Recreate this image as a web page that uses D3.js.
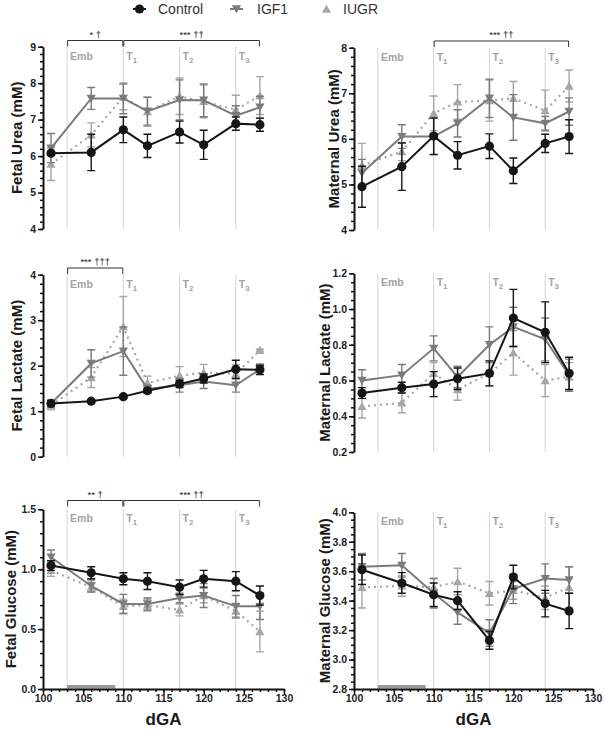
<!DOCTYPE html>
<html><head><meta charset="utf-8">
<script src="https://cdn.jsdelivr.net/npm/d3@7"></script>
<style>body{margin:0;background:#fff}svg{display:block}text{font-family:Arial,"Liberation Sans",sans-serif}</style>
</head><body>
<svg id="c" width="606" height="730"></svg>
<script>
const days = [101,106,110,113,117,120,124,127];
const groups = ["Control","IGF1","IUGR"];
const xTicks = [100,105,110,115,120,125,130];
const periodDays = [103,110,117,124];
const periodLabels = ["Emb","T1","T2","T3"];

// Fetal urea
const fuControl = [6.08,6.10,6.72,6.28,6.66,6.31,6.89,6.86];
const fuControlErr = [0.05,0.5,0.35,0.32,0.3,0.4,0.18,0.18];
const fuIGF1 = [6.22,7.58,7.58,7.23,7.54,7.53,7.11,7.34];
const fuIGF1Err = [0.4,0.3,0.42,0.38,0.55,0.45,0.27,0.3];
const fuIUGR = [5.78,6.58,7.62,7.22,7.64,7.50,7.27,7.66];
const fuIUGRErr = [0.45,0.33,0.35,0.4,0.5,0.45,0.4,0.52];
// Maternal urea
const muControl = [4.95,5.39,6.06,5.64,5.84,5.30,5.90,6.05];
const muControlErr = [0.45,0.52,0.4,0.3,0.27,0.28,0.2,0.37];
const muIGF1 = [5.25,6.05,6.05,6.34,6.89,6.47,6.34,6.60];
const muIGF1Err = [0.3,0.26,0.4,0.3,0.42,0.5,0.15,0.3];
const muIUGR = [5.42,5.72,6.56,6.81,6.84,6.89,6.62,7.16];
const muIUGRErr = [0.48,0.2,0.38,0.38,0.45,0.37,0.45,0.35];
// Fetal lactate
const flControl = [1.17,1.22,1.32,1.45,1.60,1.72,1.92,1.91];
const flControlErr = [0.05,0.03,0.03,0.05,0.08,0.1,0.2,0.1];
const flIGF1 = [1.17,2.05,2.32,1.49,1.57,1.65,1.57,1.92];
const flIGF1Err = [0.08,0.3,0.53,0.08,0.15,0.15,0.15,0.12];
const flIUGR = [1.13,1.74,2.86,1.62,1.78,1.85,1.82,2.34];
const flIUGRErr = [0.1,0.22,0.66,0.15,0.2,0.18,0.2,0.02];
// Maternal lactate
const mlControl = [0.53,0.56,0.58,0.61,0.64,0.95,0.87,0.64];
const mlControlErr = [0.03,0.03,0.07,0.06,0.07,0.16,0.17,0.09];
const mlIGF1 = [0.60,0.63,0.78,0.62,0.80,0.90,0.83,0.63];
const mlIGF1Err = [0.06,0.06,0.07,0.06,0.1,0.11,0.12,0.09];
const mlIUGR = [0.455,0.475,0.64,0.55,0.64,0.755,0.60,0.62];
const mlIUGRErr = [0.065,0.055,0.06,0.06,0.07,0.125,0.09,0.08];
// Fetal glucose
const fgControl = [1.03,0.97,0.92,0.90,0.85,0.92,0.90,0.78];
const fgControlErr = [0.04,0.05,0.05,0.07,0.06,0.07,0.08,0.08];
const fgIGF1 = [1.10,0.86,0.71,0.71,0.76,0.78,0.69,0.69];
const fgIGF1Err = [0.06,0.05,0.08,0.05,0.04,0.1,0.09,0.11];
const fgIUGR = [0.99,0.85,0.69,0.70,0.66,0.78,0.65,0.48];
const fgIUGRErr = [0.05,0.04,0.06,0.05,0.05,0.06,0.06,0.17];
// Maternal glucose
const mgControl = [3.61,3.52,3.44,3.40,3.13,3.56,3.38,3.33];
const mgControlErr = [0.1,0.07,0.08,0.06,0.06,0.08,0.09,0.12];
const mgIGF1 = [3.63,3.64,3.45,3.32,3.18,3.48,3.55,3.54];
const mgIGF1Err = [0.09,0.08,0.1,0.08,0.09,0.1,0.1,0.09];
const mgIUGR = [3.49,3.50,3.49,3.53,3.45,3.47,3.42,3.49];
const mgIUGRErr = [0.14,0.07,0.06,0.09,0.08,0.06,0.08,0.14];

const svg = d3.select("#c");
const colors = {Control:"#161616", IGF1:"#7b7b7b", IUGR:"#a6a6a6"};
const dash = {Control:null, IGF1:null, IUGR:"2,4"};

function marker(g, type, x, y, c){
  const s = 4.6;
  if(type==="Control") g.append("circle").attr("cx",x).attr("cy",y).attr("r",4.6).attr("fill",c);
  else if(type==="IGF1") g.append("path").attr("d",`M${x-s},${y-s*0.8}L${x+s},${y-s*0.8}L${x},${y+s*0.95}Z`).attr("fill",c);
  else g.append("path").attr("d",`M${x-s},${y+s*0.8}L${x+s},${y+s*0.8}L${x},${y-s*0.95}Z`).attr("fill",c);
}

function panel(p){
  const x = d3.scaleLinear().domain([100,130]).range(p.xr);
  const y = d3.scaleLinear().domain(p.yd).range(p.yr);
  const g = svg.append("g");
  // period lines
  periodDays.forEach((d,i)=>{
    g.append("line").attr("x1",x(d)).attr("x2",x(d)).attr("y1",p.yr[1]).attr("y2",p.yr[0])
      .attr("stroke","#d4d4d4").attr("stroke-width",1);
    const t = g.append("text").attr("x",x(d)+3).attr("y",p.yr[1]+13)
      .attr("fill","#a3a3a3").attr("font-size",10.5).attr("font-weight","bold");
    if(i===0){ t.text("Emb"); }
    else { t.append("tspan").text("T"); t.append("tspan").attr("dy",3).attr("font-size",8).text(periodLabels[i].slice(1)); }
  });
  if(p.bar){
    g.append("rect").attr("x",x(103)).attr("width",x(109)-x(103)).attr("y",p.yr[0]-4).attr("height",3.5).attr("fill","#9a9a9a");
  }
  // y axis
  const minor = d3.range(p.yd[0], p.yd[1]+1e-9, p.minor);
  g.append("g").attr("transform",`translate(${p.xr[0]},0)`)
    .call(d3.axisLeft(y).tickValues(minor).tickSize(3).tickFormat(""))
    .call(a=>{a.select(".domain").remove(); a.selectAll("line").attr("stroke","#111").attr("stroke-width",1.5);});
  const ya = g.append("g").attr("transform",`translate(${p.xr[0]},0)`)
    .call(d3.axisLeft(y).tickValues(p.yticks).tickSize(5).tickSizeOuter(0).tickPadding(2).tickFormat(d3.format(p.fmt)));
  ya.select(".domain").attr("stroke","#111").attr("stroke-width",2);
  ya.selectAll("line").attr("stroke","#111").attr("stroke-width",1.5);
  ya.selectAll("text").attr("font-size",10.5).attr("font-weight","bold").attr("fill","#222").attr("font-family","Arial, 'Liberation Sans', sans-serif");
  // y label
  g.append("text").attr("transform",`translate(${p.lx},${(p.yr[0]+p.yr[1])/2}) rotate(-90)`)
    .attr("text-anchor","middle").attr("font-size",15).attr("font-weight","bold").attr("fill","#1a1a1a").text(p.label);
  // x axis
  if(p.xaxis){
    g.append("g").attr("transform",`translate(0,${p.yr[0]})`)
      .call(d3.axisBottom(x).tickValues(d3.range(100,131,1)).tickSize(3).tickFormat(""))
      .call(a=>{a.select(".domain").remove(); a.selectAll("line").attr("stroke","#111").attr("stroke-width",1.5);});
    const xa = g.append("g").attr("transform",`translate(0,${p.yr[0]})`)
      .call(d3.axisBottom(x).tickValues(xTicks).tickSize(5).tickSizeOuter(0).tickPadding(1));
    xa.select(".domain").attr("stroke","#111").attr("stroke-width",2);
    xa.selectAll("line").attr("stroke","#111").attr("stroke-width",1.5);
    xa.selectAll("text").attr("font-size",10.5).attr("font-weight","bold").attr("fill","#222").attr("font-family","Arial, 'Liberation Sans', sans-serif");
    g.append("text").attr("x",(p.xr[0]+p.xr[1])/2).attr("y",725).attr("text-anchor","middle")
      .attr("font-size",17).attr("font-weight","bold").attr("fill","#1a1a1a").text("dGA");
  }
  // brackets
  (p.brackets||[]).forEach(b=>{
    const x0=x(b[0])+0.5, x1=x(b[1])-0.5;
    g.append("path").attr("d",`M${x0},${p.by+6}V${p.by}H${x1}V${p.by+6}`).attr("fill","none").attr("stroke","#333").attr("stroke-width",1);
    g.append("text").attr("x",(x0+x1)/2).attr("y",p.by-3).attr("text-anchor","middle").attr("font-size",9.5).attr("fill","#222").text(b[2]);
  });
  // series: draw IUGR, IGF1, Control
  ["IUGR","IGF1","Control"].forEach(gr=>{
    const vals = p.series[gr], errs = p.errs[gr], c = colors[gr];
    const pts = days.map((d,i)=>({d, v:vals[i], e:errs[i]}));
    const sg = g.append("g");
    pts.forEach(o=>{
      const xx = x(o.d), y0=y(o.v-o.e), y1=y(o.v+o.e);
      sg.append("path").attr("d",`M${xx},${y0}V${y1}M${xx-4},${y0}H${xx+4}M${xx-4},${y1}H${xx+4}`)
        .attr("stroke",c).attr("stroke-width",1.4).attr("fill","none");
    });
    sg.append("path").datum(pts).attr("d",d3.line().x(o=>x(o.d)).y(o=>y(o.v)))
      .attr("fill","none").attr("stroke",c).attr("stroke-width",gr==="IUGR"?2.2:2).attr("stroke-dasharray",dash[gr]);
    pts.forEach(o=>marker(sg, gr, x(o.d), y(o.v), c));
  });
}

const L=[43,284], R=[354,593];
panel({xr:L, yd:[4,9], yr:[229,46.7], yticks:[4,5,6,7,8,9], minor:0.2, fmt:"d", label:"Fetal Urea (mM)", lx:22,
  by:40.5, brackets:[[103,110,"* †"],[110,127,"*** ††"]],
  series:{Control:fuControl,IGF1:fuIGF1,IUGR:fuIUGR}, errs:{Control:fuControlErr,IGF1:fuIGF1Err,IUGR:fuIUGRErr}});
panel({xr:R, yd:[4,8], yr:[230,47.7], yticks:[4,5,6,7,8], minor:0.2, fmt:"d", label:"Maternal Urea (mM)", lx:339,
  by:41, brackets:[[110,127,"*** ††"]],
  series:{Control:muControl,IGF1:muIGF1,IUGR:muIUGR}, errs:{Control:muControlErr,IGF1:muIGF1Err,IUGR:muIUGRErr}});
panel({xr:L, yd:[0,4], yr:[456.7,274.7], yticks:[0,1,2,3,4], minor:0.2, fmt:"d", label:"Fetal Lactate (mM)", lx:22,
  by:268, brackets:[[103,110,"*** †††"]],
  series:{Control:flControl,IGF1:flIGF1,IUGR:flIUGR}, errs:{Control:flControlErr,IGF1:flIGF1Err,IUGR:flIUGRErr}});
panel({xr:R, yd:[0.2,1.2], yr:[452,273.3], yticks:[0.2,0.4,0.6,0.8,1.0,1.2], minor:0.05, fmt:".1f", label:"Maternal Lactate (mM)", lx:330,
  series:{Control:mlControl,IGF1:mlIGF1,IUGR:mlIUGR}, errs:{Control:mlControlErr,IGF1:mlIGF1Err,IUGR:mlIUGRErr}});
panel({xr:L, yd:[0,1.5], yr:[689,509.3], yticks:[0,0.5,1.0,1.5], minor:0.1, fmt:".1f", label:"Fetal Glucose (mM)", lx:16, xaxis:true, bar:true,
  by:500.5, brackets:[[103,110,"** †"],[110,127,"*** ††"]],
  series:{Control:fgControl,IGF1:fgIGF1,IUGR:fgIUGR}, errs:{Control:fgControlErr,IGF1:fgIGF1Err,IUGR:fgIUGRErr}});
panel({xr:R, yd:[2.8,4.0], yr:[689,512.3], yticks:[2.8,3.0,3.2,3.4,3.6,3.8,4.0], minor:0.05, fmt:".1f", label:"Maternal Glucose (mM)", lx:330, xaxis:true, bar:true,
  series:{Control:mgControl,IGF1:mgIGF1,IUGR:mgIUGR}, errs:{Control:mgControlErr,IGF1:mgIGF1Err,IUGR:mgIUGRErr}});

// legend
const leg = svg.append("g");
const legX = [[133,158],[230,257],[320,343]];
groups.forEach((gr,i)=>{
  const [mx,tx]=legX[i], c=colors[gr];
  if(gr!=="IUGR") leg.append("line").attr("x1",mx).attr("x2",mx+13).attr("y1",9).attr("y2",9).attr("stroke",c).attr("stroke-width",2);
  marker(leg, gr, mx+6.5, 9, c);
  leg.append("text").attr("x",tx).attr("y",14).attr("font-size",14).attr("fill","#333").text(gr);
});
</script>
</body></html>
